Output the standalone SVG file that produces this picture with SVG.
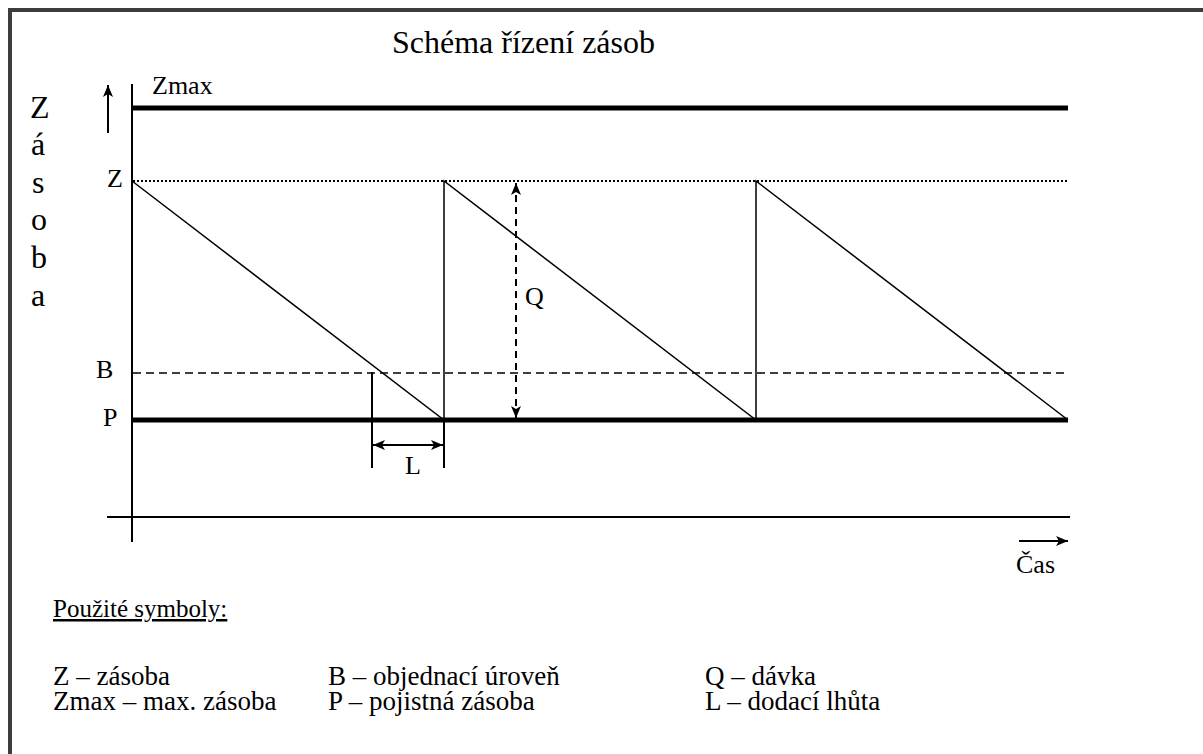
<svg xmlns="http://www.w3.org/2000/svg" width="1203" height="754" viewBox="0 0 1203 754">
  <style>
    text { font-family: "Liberation Serif", "Times New Roman", serif; fill: #000; }
    .t32 { font-size: 32px; }
    .t26 { font-size: 26px; }
    .t27 { font-size: 27px; }
    .axis { stroke: #000; stroke-width: 2; fill: none; }
    .thick { stroke: #000; stroke-width: 5; fill: none; }
    .thin { stroke: #000; stroke-width: 1.5; fill: none; }
    .dotted { stroke: #000; stroke-width: 2; stroke-dasharray: 2 2; fill: none; }
    .dashed { stroke: #000; stroke-width: 1.5; stroke-dasharray: 8 5; fill: none; }
    .qdash { stroke: #000; stroke-width: 2; stroke-dasharray: 7 5; fill: none; }
  </style>
  <defs>
    <marker id="head" viewBox="0 0 12 10" refX="12" refY="5" markerWidth="12" markerHeight="10" markerUnits="userSpaceOnUse" orient="auto-start-reverse">
      <path d="M0,0 L12,5 L0,10 L3,5 Z" fill="#000"/>
    </marker>
  </defs>

  <rect width="1203" height="754" fill="#fff"/>
  <!-- frame -->
  <rect x="10" y="10" width="1210" height="770" fill="none" stroke="#3c3c3c" stroke-width="4"/>

  <text class="t32" x="392" y="53">Schéma řízení zásob</text>

  <!-- vertical axis caption -->
  <g id="y-caption" class="t32">
    <text x="30" y="118">Z</text>
    <text x="31" y="155">á</text>
    <text x="32" y="193">s</text>
    <text x="31" y="230">o</text>
    <text x="31" y="268">b</text>
    <text x="31" y="306">a</text>
  </g>

  <!-- axes -->
  <g id="axes">
    <line class="axis" x1="132" y1="84" x2="132" y2="542"/>
    <line class="axis" x1="107" y1="517" x2="1070" y2="517"/>
  </g>

  <!-- level lines -->
  <g id="level-zmax">
    <line class="thick" x1="132" y1="108" x2="1068" y2="108"/>
    <text class="t26" x="152" y="94">Zmax</text>
  </g>
  <g id="level-z">
    <line class="dotted" x1="133" y1="181" x2="1068" y2="181"/>
    <text class="t26" x="107" y="187">Z</text>
  </g>
  <g id="level-b">
    <line class="dashed" x1="133" y1="373" x2="1068" y2="373"/>
    <text class="t26" x="96" y="378">B</text>
  </g>
  <g id="level-p">
    <line class="thick" x1="132" y1="420" x2="1068" y2="420"/>
    <text class="t26" x="103" y="426">P</text>
  </g>

  <!-- stock sawtooth -->
  <g id="stock">
    <polyline class="thin" points="132,181 444,420 444,181 756,420 756,181 1068,420"/>
  </g>

  <!-- dimension marks and arrows -->
  <g id="connectors">
    <line class="axis" x1="108" y1="133" x2="108" y2="85" marker-end="url(#head)"/>
    <line class="axis" x1="1019" y1="541" x2="1068" y2="541" marker-end="url(#head)"/>
    <line class="qdash" x1="516" y1="183" x2="516" y2="418" marker-start="url(#head)" marker-end="url(#head)"/>
    <line class="axis" x1="372" y1="372" x2="372" y2="468"/>
    <line class="axis" x1="444" y1="420" x2="444" y2="468"/>
    <line class="axis" x1="373" y1="445" x2="443" y2="445" marker-start="url(#head)" marker-end="url(#head)"/>
  </g>
  <g id="label-q"><text class="t26" x="525" y="305">Q</text></g>
  <g id="label-l"><text class="t26" x="405" y="474">L</text></g>
  <g id="label-cas"><text class="t26" x="1016" y="573">Čas</text></g>

  <!-- legend -->
  <g id="legend" class="t27">
    <text x="53" y="617" style="font-size:25px" text-decoration="underline">Použité symboly:</text>
    <text x="53" y="685">Z – zásoba</text>
    <text x="53" y="710">Zmax – max. zásoba</text>
    <text x="328" y="685">B – objednací úroveň</text>
    <text x="328" y="710">P – pojistná zásoba</text>
    <text x="705" y="685">Q – dávka</text>
    <text x="705" y="710">L – dodací lhůta</text>
  </g>
</svg>
